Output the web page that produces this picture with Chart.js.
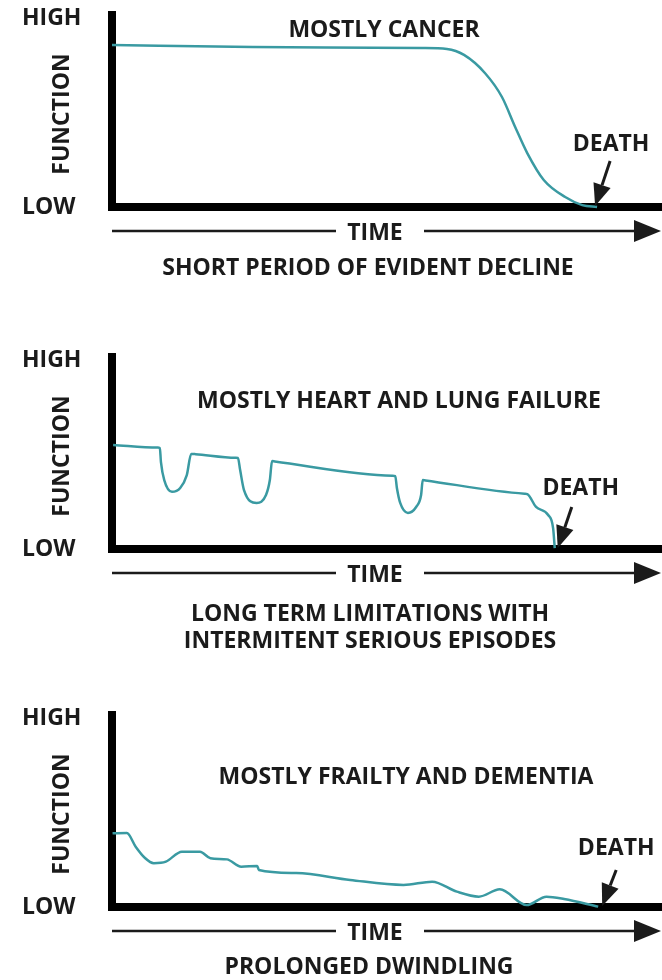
<!DOCTYPE html>
<html>
<head>
<meta charset="utf-8">
<title>Trajectories of dying</title>
<script src="https://cdn.jsdelivr.net/npm/chart.js@4.4.0/dist/chart.umd.min.js"></script>
<style>
  body { margin: 0; background: #fff; }
  #wrap { position: relative; width: 662px; height: 980px; }
  canvas { position: absolute; left: 0; }
</style>
</head>
<body>
<div id="wrap">
  <canvas id="c1" width="662" height="300" style="top:0px"></canvas>
  <canvas id="c2" width="662" height="320" style="top:342px"></canvas>
  <canvas id="c3" width="662" height="280" style="top:700px"></canvas>
</div>
<script>
// values: time 0..100, function 0 (low) .. 100 (high)
const yTickLabels = ['LOW', 'HIGH'];

const cancerX = [0, 25.6, 56.4, 60.9, 64.0, 67.8, 70.9, 73.3, 75.5, 78.5, 82.4, 85.5, 88.2];
const cancerY = [84.4, 83.3, 82.8, 82.3, 79.2, 69.8, 57.3, 41.7, 28.1, 14.1, 5.2, 1.0, 0];

// straight stretches between episodes get a point next to each corner so they stay straight
const heartX = [0.2, 8.3, 8.7, 8.9, 9.5, 10.9, 12.4, 13.6, 14.4, 14.7, 15.2, 22.5, 22.9, 23.3, 24.0, 26.3, 28.0,
                28.7, 29.1, 29.6, 51.0, 51.5, 51.8, 52.4, 53.8, 55.3, 56.2, 56.5, 57.0, 75.0, 75.5, 77.1,
                79.3, 80.2, 80.5];
const heartY = [54.2, 52.8, 52.6, 45.3, 35.9, 29.8, 31.8, 38.5, 49.5, 49.5, 49.4, 47.5, 47.4, 41.1, 30.7, 24.0, 28.1,
                35.9, 45.8, 45.6, 38.2, 38.0, 31.8, 24.0, 18.8, 21.9, 28.1, 35.9, 35.7, 28.8, 28.6, 21.9,
                17.7, 10.9, 0.5];

const frailX = [0.1, 2.7, 4.3, 6.0, 7.6, 9.8, 12.7, 16.0, 17.9, 20.9, 23.5, 26.4, 26.7, 33.5, 43.3, 53.0,
                58.2, 62.7, 66.7, 70.5, 75.4, 79.0, 82.2, 88.4];
const frailY = [38.4, 38.5, 31.4, 25.5, 22.8, 23.6, 28.8, 28.8, 25.4, 24.8, 21.0, 21.4, 19.3, 17.7, 14.1, 11.5,
                13.2, 8.0, 5.4, 9.2, 1.0, 5.4, 4.2, 0.2];

const ink = '#1b1b1b';
const teal = '#3a9aa2';
const fontFamily = "'Open Sans', 'DejaVu Sans', sans-serif";
const fontStr = size => '700 ' + size + 'px ' + fontFamily;

function drawArrow(ctx, x1, y1, x2, y2, headLen, headHalf, width) {
  const a = Math.atan2(y2 - y1, x2 - x1);
  const bx = x2 - headLen * Math.cos(a), by = y2 - headLen * Math.sin(a);
  ctx.lineWidth = width;
  ctx.beginPath();
  ctx.moveTo(x1, y1);
  ctx.lineTo(bx, by);
  ctx.stroke();
  ctx.beginPath();
  ctx.moveTo(x2, y2);
  ctx.lineTo(bx + headHalf * Math.sin(a), by - headHalf * Math.cos(a));
  ctx.lineTo(bx - headHalf * Math.sin(a), by + headHalf * Math.cos(a));
  ctx.closePath();
  ctx.fill();
}

// titles, DEATH arrow, TIME arrow and captions
const decor = {
  id: 'decor',
  afterDraw(chart, args, o) {
    const { ctx, chartArea, scales: { x } } = chart;
    const pts = chart.data.datasets[0].data;
    ctx.save();
    ctx.fillStyle = ink;
    ctx.strokeStyle = ink;
    ctx.font = fontStr(23);
    ctx.textAlign = 'center';
    ctx.textBaseline = 'middle';

    ctx.fillText(o.title, o.titleX, o.titleY);

    ctx.save();
    ctx.translate(62, (chartArea.top + chartArea.bottom) / 2 + 3);
    ctx.rotate(-Math.PI / 2);
    ctx.fillText('FUNCTION', 0, 0);
    ctx.restore();

    // death arrow points at the last value of the series
    const tx = x.getPixelForValue(pts[pts.length - 1].x) + o.tipDx;
    const ty = chartArea.bottom - 1;
    drawArrow(ctx, tx + o.arrowDx, ty - o.arrowDy, tx, ty, 22, 9, 3);
    ctx.fillText('DEATH', tx + o.labelDx, ty - o.labelDy);

    // time axis arrow
    const ay = chartArea.bottom + 24;
    ctx.lineWidth = 2.5;
    ctx.beginPath();
    ctx.moveTo(chartArea.left, ay);
    ctx.lineTo(336, ay);
    ctx.stroke();
    drawArrow(ctx, 424, ay, 661, ay, 27, 11, 2.5);
    ctx.fillText('TIME', 375, ay + 2);

    o.caption.forEach((line, i) => ctx.fillText(line, o.captionX, o.captionY[i]));
    ctx.restore();
  }
};

function makeChart(id, xs, ys, deco) {
  const data = xs.map((v, i) => ({ x: v, y: ys[i] }));
  return new Chart(document.getElementById(id), {
    type: 'line',
    data: {
      datasets: [{
        data,
        borderColor: teal,
        borderWidth: 2.5,
        pointRadius: 0,
        fill: false,
        cubicInterpolationMode: 'monotone',
        clip: 8
      }]
    },
    options: {
      responsive: false,
      animation: false,
      events: [],
      layout: { padding: { left: 22, top: 15, right: 0, bottom: deco.bottomPad } },
      plugins: { legend: { display: false }, tooltip: { enabled: false }, decor: deco },
      scales: {
        x: {
          type: 'linear', min: 0, max: 100,
          ticks: { display: false },
          grid: { display: false },
          border: { display: true, color: '#000', width: 8 },
          afterFit: s => { s.height = 0; }
        },
        y: {
          type: 'linear', min: 0, max: 100,
          afterBuildTicks: s => { s.ticks = [{ value: 0 }, { value: 98 }]; },
          ticks: {
            color: ink,
            font: { family: fontFamily, size: 23, weight: '700' },
            crossAlign: 'far',
            padding: 0,
            callback: v => (v === 0 ? yTickLabels[0] : yTickLabels[1])
          },
          grid: { display: false, drawTicks: false },
          border: { display: true, color: '#000', width: 8 },
          afterFit: s => { s.width = 90; }
        }
      }
    },
    plugins: [decor]
  });
}

makeChart('c1', cancerX, cancerY, {
  bottomPad: 93, title: 'MOSTLY CANCER', titleX: 384, titleY: 30,
  tipDx: -2, arrowDx: 15, arrowDy: 45, labelDx: 16, labelDy: 62,
  caption: ['SHORT PERIOD OF EVIDENT DECLINE'], captionX: 368, captionY: [268]
});
makeChart('c2', heartX, heartY, {
  bottomPad: 113, title: 'MOSTLY HEART AND LUNG FAILURE', titleX: 399, titleY: 59,
  tipDx: 3, arrowDx: 14, arrowDy: 41, labelDx: 23, labelDy: 60,
  caption: ['LONG TERM LIMITATIONS WITH', 'INTERMITENT SERIOUS EPISODES'], captionX: 370, captionY: [272, 299]
});
makeChart('c3', frailX, frailY, {
  bottomPad: 73, title: 'MOSTLY FRAILTY AND DEMENTIA', titleX: 406, titleY: 77,
  tipDx: 4, arrowDx: 14, arrowDy: 36, labelDx: 14, labelDy: 58,
  caption: ['PROLONGED DWINDLING'], captionX: 369, captionY: [267]
});
</script>
</body>
</html>
